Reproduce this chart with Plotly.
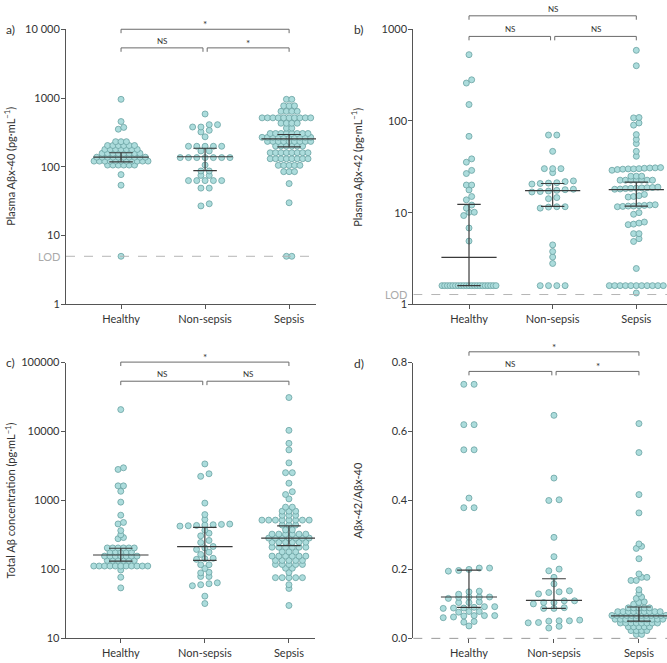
import numpy as np
import plotly.graph_objects as go

W, H = 667, 663
groups = ["Healthy", "Non-sepsis", "Sepsis"]

# ---------------- data ----------------
# a) Plasma Abx-40 (pg/mL)
a_healthy = [5, 54, 77,
             106, 106, 106, 106, 106, 106,
             121, 121, 121, 121, 121, 121, 121, 121, 121, 121, 121,
             138, 138, 138, 138, 138, 138, 138, 138, 138, 138,
             157, 157, 157, 157, 157, 157, 157, 157,
             179, 179, 179, 179, 179, 179, 179,
             204, 204, 204, 204, 204, 204,
             232, 232, 232,
             352, 374, 455, 958]
a_nonsepsis = [27, 29, 49, 49, 63, 63, 63, 63, 63, 75, 75, 87, 87, 106,
               136, 136, 136, 136, 136, 136, 136, 170, 170,
               199, 199, 199, 199, 199, 273, 321, 339, 379, 379, 410, 410, 586]
a_sepsis = [5, 5, 30, 57, 85, 85, 85,
            105, 105, 105, 105, 105,
            131, 131, 131, 131, 131, 131, 131, 131,
            160, 160, 160, 160, 160, 160, 160, 160,
            200, 200, 200, 200, 200, 200,
            234, 234, 234, 234, 234, 234, 234, 234, 234,
            268, 268, 268, 268, 268, 268, 268, 268, 268, 268, 268,
            305, 305, 305, 305, 305, 305, 305, 305,
            365, 365, 430, 430, 430, 430,
            515, 515, 515, 515, 515, 515, 515, 515, 515, 515, 515,
            640, 640, 640, 640, 770, 770, 770, 958, 958]
a_median = [138, 140, 255]
a_q1 = [118, 88, 195]
a_q3 = [160, 186, 295]
a_tickvals = [1, 10, 100, 1000, 10000]
a_ticktext = ["1", "10", "100", "1000", "10 000"]
a_lod = 5
a_sig = ["NS", "*", "*"]   # H vs NS, NS vs S, H vs S

# b) Plasma Abx-42 (pg/mL)
b_healthy = [1.6, 1.6, 1.6, 1.6, 1.6, 1.6, 1.6, 1.6, 1.6, 1.6, 1.6,
             1.6, 1.6, 1.6, 1.6, 1.6, 1.6, 1.6, 1.6, 1.6, 1.6,
             4.9, 6.8, 9.3, 10.1, 10.1, 11.2, 12.1, 13.8, 15.0, 17.7, 20, 20,
             26.7, 28.9, 35.5, 38.6, 68, 151, 259, 281, 528]
b_nonsepsis = [1.6, 1.6, 1.6, 1.6, 2.79, 3.28, 3.77, 4.45,
               11.2, 11.5, 11.6, 11.6, 14.2, 14.6,
               16.8, 17.0, 17.2, 17.5, 17.8, 18.0,
               20.5, 20.8, 21.0, 21.2, 21.8, 22.2,
               27.3, 30.2, 30.2, 30.2, 46.6, 70.2, 70.2]
b_sepsis = [1.33, 1.6, 1.6, 1.6, 1.6, 1.6, 1.6, 1.6, 1.6, 1.6, 1.6, 1.6,
            2.46, 4.85, 5.2, 5.9, 5.9, 7.4, 7.5, 7.7, 7.9, 9.6, 10.0,
            11.6, 11.7, 11.8, 11.8, 11.9, 12.0, 12.1, 12.2,
            14.8, 15.0, 15.3, 15.8,
            18.0, 18.1, 18.3, 18.4, 18.5, 18.6, 18.7, 18.8, 19.0,
            22.6, 22.6, 22.6, 22.6, 22.6, 22.6, 22.6, 25, 25, 25,
            29, 29.5, 29.8, 30, 30, 30.2, 30.5, 30.7, 30.8, 31,
            41.2, 46.6, 56.7, 63, 71, 90, 95, 108, 109, 400, 589]
b_median = [3.25, 17.4, 17.8]
b_q1 = [1.6, 11.7, 11.8]
b_q3 = [12.3, 20.8, 21.5]
b_tickvals = [1, 10, 100, 1000]
b_ticktext = ["1", "10", "100", "1000"]
b_lod = 1.28
b_sig = ["NS", "NS", "NS"]

# c) Total Ab concentration (pg/mL)
c_healthy = [54, 77, 98,
             112, 112, 112, 112, 112, 112, 112, 112, 112, 112, 112,
             135, 135, 135, 135, 135, 135,
             156, 156, 156, 156, 156, 156, 156,
             180, 180, 180, 180, 180,
             205, 205, 205, 205, 205, 205,
             279, 290, 318, 366, 457, 480, 612, 946, 1360, 1630, 1630,
             2820, 2980, 20800]
c_nonsepsis = [32, 41, 58, 60, 62, 64, 79, 79, 89, 91, 103, 117, 117,
               140, 143, 145, 165, 178, 195, 205, 215, 246, 263, 307, 335, 370,
               425, 430, 435, 440, 445, 450, 455, 530, 624, 916, 2240, 2440, 3390]
c_sepsis = [30, 53, 60, 76, 76, 76, 76, 76, 90, 104, 104,
            118, 118, 118, 118, 118, 135, 135, 135, 135, 135,
            156, 156, 156, 156, 156, 156, 180, 180, 180,
            210, 210, 210, 210, 210, 210, 248, 248, 248, 248, 248, 248,
            285, 285, 285, 285, 285, 285, 285,
            325, 325, 325, 325, 325, 325, 375, 375, 440, 440, 440,
            519, 519, 519, 519, 519, 519, 519, 519, 519,
            610, 610, 610, 700, 700, 700, 800, 800,
            1055, 1220, 1340, 1780, 2530, 2530, 3510, 5420, 6740, 10400, 31100]
c_median = [162, 214, 285]
c_q1 = [132, 135, 222]
c_q3 = [203, 408, 427]
c_tickvals = [10, 100, 1000, 10000, 100000]
c_ticktext = ["10", "100", "1000", "10000", "100000"]
c_sig = ["NS", "NS", "*"]

# d) Abx-42/Abx-40 ratio
d_healthy = [0.036, 0.047, 0.049, 0.060, 0.062, 0.065, 0.066, 0.066, 0.066,
             0.076, 0.078, 0.078, 0.087, 0.088, 0.088, 0.090, 0.092, 0.092,
             0.104, 0.104, 0.106, 0.116, 0.119, 0.120, 0.120, 0.120,
             0.128, 0.135, 0.137, 0.195, 0.197, 0.200, 0.204, 0.204,
             0.379, 0.379, 0.407, 0.547, 0.547, 0.620, 0.620, 0.737, 0.737]
d_nonsepsis = [0.030, 0.035, 0.045, 0.046, 0.050, 0.051, 0.051, 0.053,
               0.087, 0.087, 0.089, 0.100, 0.104, 0.104, 0.109, 0.109,
               0.129, 0.133, 0.135, 0.138, 0.158, 0.177, 0.196, 0.201,
               0.237, 0.293, 0.400, 0.402, 0.465, 0.647]
d_sepsis = [0.0115, 0.0115, 0.0225, 0.0225, 0.0225, 0.0225,
            0.0335, 0.0335, 0.0335, 0.0335, 0.0335,
            0.0445, 0.0445, 0.0445, 0.0445, 0.0445, 0.0445, 0.0445, 0.0445,
            0.0555, 0.0555, 0.0555, 0.0555, 0.0555, 0.0555, 0.0555, 0.0555, 0.0555, 0.0555,
            0.0665, 0.0665, 0.0665, 0.0665, 0.0665, 0.0665, 0.0665, 0.0665, 0.0665, 0.0665, 0.0665, 0.0665,
            0.0775, 0.0775, 0.0775, 0.0775, 0.0775, 0.0775, 0.0775, 0.0775, 0.0775,
            0.0885, 0.0885, 0.0885, 0.0885, 0.0885,
            0.099, 0.104, 0.106, 0.116, 0.120, 0.130, 0.141,
            0.168, 0.168, 0.177, 0.177, 0.187, 0.231, 0.261, 0.267, 0.274,
            0.364, 0.417, 0.539, 0.623]
d_median = [0.120, 0.110, 0.065]
d_q1 = [0.090, 0.087, 0.050]
d_q3 = [0.198, 0.173, 0.091]
d_tickvals = [0, 0.2, 0.4, 0.6, 0.8]
d_ticktext = ["0.0", "0.2", "0.4", "0.6", "0.8"]
d_sig = ["NS", "*", "*"]

# ---------------- style / layout ----------------
FONT = "Lato, 'DejaVu Sans', sans-serif"
FILL = "#acdcdc"
EDGE = "#6aa2a2"
BAR = "#3a3a3a"
AXC = "#555555"
TXT = "#333333"
GREY = "#aaaaaa"
MSIZE = 6
ROW_H = 3.6      # px, row height for the dot layout
S_DENSE = 5.3    # px
W_MAX = 54       # px

panels = [
    dict(sub="", data=[a_healthy, a_nonsepsis, a_sepsis], med=a_median, q1=a_q1, q3=a_q3,
         tv=a_tickvals, tt=a_ticktext, lod=a_lod, sig=a_sig, log=True, yr=(0, 4),
         title="Plasma Aβx-40 (pg·mL<sup>−1</sup>)", label="a)",
         box=(66, 316, 22.7, 303.3), xr=(-0.655, 2.32), smax=8.3,
         br=(22.7, 41.7), tx=10, lx=10, ly=22.7, dashbase=False),
    dict(sub="2", data=[b_healthy, b_nonsepsis, b_sepsis], med=b_median, q1=b_q1, q3=b_q3,
         tv=b_tickvals, tt=b_ticktext, lod=b_lod, sig=b_sig, log=True, yr=(0, 3),
         title="Plasma Aβx-42 (pg·mL<sup>−1</sup>)", label="b)",
         box=(413.3, 667, 22.7, 303.3), xr=(-0.666, 2.367), smax=8.3,
         br=(9, 30), tx=357, lx=359, ly=22.7, dashbase=False),
    dict(sub="3", data=[c_healthy, c_nonsepsis, c_sepsis], med=c_median, q1=c_q1, q3=c_q3,
         tv=c_tickvals, tt=c_ticktext, lod=None, sig=c_sig, log=True, yr=(1, 5),
         title="Total Aβ concentration (pg·mL<sup>−1</sup>)", label="c)",
         box=(65.7, 315, 362.7, 644), xr=(-0.655, 2.31), smax=8.3,
         br=(362.2, 381.7), tx=10, lx=10, ly=362.7, dashbase=False),
    dict(sub="4", data=[d_healthy, d_nonsepsis, d_sepsis], med=d_median, q1=d_q1, q3=d_q3,
         tv=d_tickvals, tt=d_ticktext, lod=None, sig=d_sig, log=False, yr=(0, 0.8),
         title="Aβx-42/Aβx-40", label="d)",
         box=(413.3, 667, 362.7, 644), xr=(-0.655, 2.33), smax=10.3,
         br=(351.7, 371.7), tx=357, lx=359, ly=364, dashbase=True),
]


def to_px(v, p):
    v = np.asarray(v, float)
    lo, hi = p["yr"]
    t = (np.log10(v) - lo) / (hi - lo) if p["log"] else (v - lo) / (hi - lo)
    return t * (p["box"][3] - p["box"][2])


def dot_offsets(vals, p):
    """Prism-like column scatter: bin sorted values into rows, spread rows horizontally."""
    v = np.asarray(vals, float)
    py = to_px(v, p)
    order = np.argsort(v, kind="stable")
    rows, cur = [], [order[0]]
    for idx in order[1:]:
        if py[idx] - py[cur[0]] < ROW_H:
            cur.append(idx)
        else:
            rows.append(cur)
            cur = [idx]
    rows.append(cur)
    maxn = max(len(r) for r in rows)
    s = p["smax"] if (maxn - 1) * p["smax"] <= W_MAX else max(S_DENSE, W_MAX / (maxn - 1))
    ppu = (p["box"][1] - p["box"][0]) / (p["xr"][1] - p["xr"][0])
    off = np.zeros(len(v))
    for r in rows:
        n = len(r)
        sr = s if (n - 1) * s <= W_MAX else W_MAX / (n - 1)
        for k, idx in enumerate(r):
            off[idx] = (k - (n - 1) / 2) * sr / ppu
    return off


fig = go.Figure()
shapes, annotations = [], []
layout = {}

for p in panels:
    xa, ya = "x" + p["sub"], "y" + p["sub"]
    x0, x1, yt, yb = p["box"]
    dom_x = [x0 / W, min(x1 / W, 1.0)]
    dom_y = [1 - yb / H, 1 - yt / H]
    ph = yb - yt

    # points
    for i, vals in enumerate(p["data"]):
        off = dot_offsets(vals, p)
        fig.add_trace(go.Scatter(
            x=i + off, y=vals, mode="markers", xaxis=xa, yaxis=ya,
            marker=dict(size=MSIZE, color=FILL, line=dict(color=EDGE, width=0.8)),
            cliponaxis=False, hoverinfo="skip", showlegend=False))

    # LOD line
    if p["lod"] is not None:
        fig.add_trace(go.Scatter(
            x=list(p["xr"]), y=[p["lod"], p["lod"]], mode="lines", xaxis=xa, yaxis=ya,
            line=dict(color="#b5b5b5", width=1, dash="dash"),
            hoverinfo="skip", showlegend=False))
        annotations.append(dict(
            xref=xa + " domain", yref=ya, x=0, y=np.log10(p["lod"]), xanchor="right",
            xshift=-4, text="LOD", showarrow=False,
            font=dict(family=FONT, size=11, color=GREY)))

    # median & IQR
    bx, by = [], []
    for i in range(3):
        bx += [i - 0.33, i + 0.33, None, i - 0.14, i + 0.14, None,
               i - 0.14, i + 0.14, None, i, i, None]
        by += [p["med"][i], p["med"][i], None, p["q1"][i], p["q1"][i], None,
               p["q3"][i], p["q3"][i], None, p["q1"][i], p["q3"][i], None]
    fig.add_trace(go.Scatter(x=bx, y=by, mode="lines", xaxis=xa, yaxis=ya,
                             line=dict(color=BAR, width=1.2), hoverinfo="skip",
                             showlegend=False))

    # axes
    xr = p["xr"]
    layout["xaxis" + p["sub"]] = dict(
        domain=dom_x, range=list(xr), anchor=ya, tickmode="array",
        tickvals=[0, 1, 2], ticktext=groups, showline=not p["dashbase"],
        linecolor=AXC, linewidth=1, ticks="outside", ticklen=4, tickcolor=AXC,
        tickfont=dict(family=FONT, size=11, color=TXT), showgrid=False,
        zeroline=False, fixedrange=True)
    ydict = dict(
        domain=dom_y, anchor=xa, tickmode="array", tickvals=p["tv"], ticktext=p["tt"],
        showline=True, linecolor=AXC, linewidth=1, ticks="outside", ticklen=4,
        tickcolor=AXC, tickfont=dict(family=FONT, size=11, color=TXT),
        showgrid=False, zeroline=False, fixedrange=True, ticklabelstandoff=-1)
    if p["log"]:
        ydict.update(type="log", range=list(p["yr"]))
    else:
        ydict.update(range=list(p["yr"]))
    layout["yaxis" + p["sub"]] = ydict

    if p["dashbase"]:
        shapes.append(dict(type="line", xref=xa + " domain", yref=ya + " domain",
                           x0=0, x1=1, y0=0, y1=0,
                           line=dict(color="#9a9a9a", width=1, dash="dash")))

    # significance brackets
    def xd(v):
        return (v - xr[0]) / (xr[1] - xr[0])
    leg = 4 / ph
    ytop = (yb - p["br"][0]) / ph
    ylow = (yb - p["br"][1]) / ph
    spans = [(0, 0.975, ylow, p["sig"][0]), (1.025, 2, ylow, p["sig"][1]),
             (0, 2, ytop, p["sig"][2])]
    for (s0, s1, yy, lab) in spans:
        for (a0, a1, b0, b1) in [(s0, s1, yy, yy), (s0, s0, yy, yy - leg), (s1, s1, yy, yy - leg)]:
            shapes.append(dict(type="line", xref=xa + " domain", yref=ya + " domain",
                               x0=xd(a0), x1=xd(a1), y0=b0, y1=b1,
                               line=dict(color="#6a6a6a", width=1)))
        star = lab == "*"
        annotations.append(dict(
            xref=xa + " domain", yref=ya + " domain", x=xd((s0 + s1) / 2), y=yy,
            xanchor="center", yanchor="bottom", yshift=-3 if star else 0,
            text=lab, showarrow=False,
            font=dict(family=FONT, size=10 if star else 8, color=TXT)))

    # y title and panel label
    annotations.append(dict(
        xref="paper", yref="paper", x=p["tx"] / W, y=1 - (yt + yb) / 2 / H,
        text=p["title"], textangle=-90, showarrow=False, xanchor="center",
        yanchor="middle", font=dict(family=FONT, size=11, color=TXT)))
    annotations.append(dict(
        xref="paper", yref="paper", x=p["lx"] / W, y=1 - p["ly"] / H,
        text=p["label"], showarrow=False, xanchor="center", yanchor="middle",
        font=dict(family=FONT, size=12, color=TXT)))

fig.update_layout(
    width=W, height=H, margin=dict(l=0, r=0, t=0, b=0),
    paper_bgcolor="white", plot_bgcolor="white",
    shapes=shapes, annotations=annotations, showlegend=False,
    font=dict(family=FONT, color=TXT), **layout)

fig.write_html("out.html", config={"displayModeBar": False},
               post_script="document.body.style.margin='0';document.body.style.overflow='hidden';")
